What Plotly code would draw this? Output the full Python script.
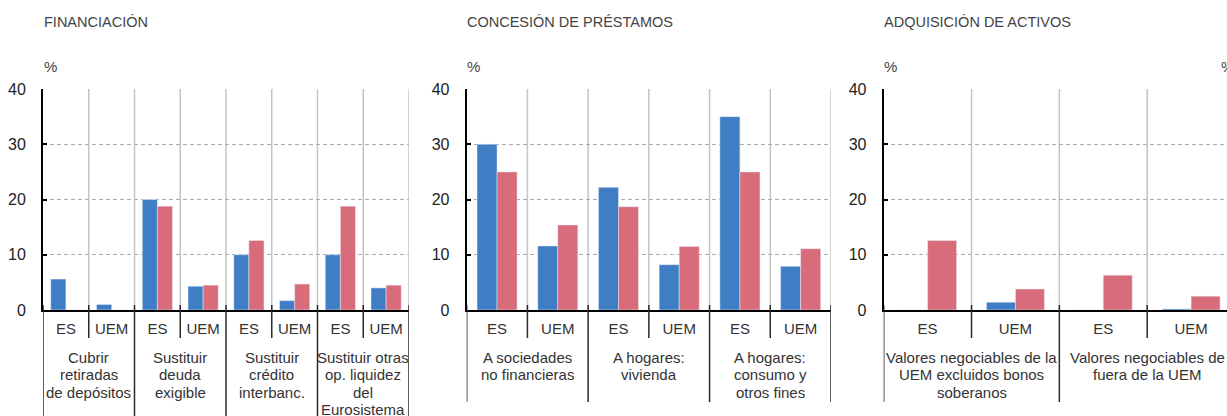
import plotly.graph_objects as go

W, H = 1227, 416

# ---------------- data ----------------
fin_ticks = ["ES", "UEM", "ES", "UEM", "ES", "UEM", "ES", "UEM"]
fin_blue = [5.6, 1.0, 20.0, 4.3, 10.0, 1.7, 10.0, 4.0]
fin_red = [0.0, 0.0, 18.8, 4.5, 12.6, 4.7, 18.8, 4.5]
fin_groups = [["Cubrir", "retiradas", "de depósitos"],
              ["Sustituir", "deuda", "exigible"],
              ["Sustituir", "crédito", "interbanc."],
              ["Sustituir otras", "op. liquidez", "del", "Eurosistema"]]

pre_ticks = ["ES", "UEM", "ES", "UEM", "ES", "UEM"]
pre_blue = [30.0, 11.6, 22.2, 8.2, 35.0, 7.9]
pre_red = [25.0, 15.4, 18.7, 11.5, 25.0, 11.1]
pre_groups = [["A sociedades", "no financieras"],
              ["A hogares:", "vivienda"],
              ["A hogares:", "consumo y", "otros fines"]]

act_ticks = ["ES", "UEM", "ES", "UEM"]
act_blue = [0.0, 1.4, 0.0, 0.2]
act_red = [12.6, 3.8, 6.3, 2.5]
act_groups = [["Valores negociables de la", "UEM excluidos bonos", "soberanos"],
              ["Valores negociables de", "fuera de la UEM"]]

titles = ["FINANCIACIÓN", "CONCESIÓN DE PRÉSTAMOS", "ADQUISICIÓN DE ACTIVOS"]
y_ticks = [0, 10, 20, 30, 40]

# ---------------- style ----------------
BLUE = "#3F7EC4"
RED = "#D96C7B"
FONT = "Liberation Sans, Arial, sans-serif"

def px(x):
    return x / W

def py(y):
    return 1 - y / H

panels = [
    dict(ticks=fin_ticks, blue=fin_blue, red=fin_red, groups=fin_groups,
         left=43, right=409, rng_end=7.5, bottom=416),
    dict(ticks=pre_ticks, blue=pre_blue, red=pre_red, groups=pre_groups,
         left=466.7, right=831, rng_end=5.5, bottom=402),
    dict(ticks=act_ticks, blue=act_blue, red=act_red, groups=act_groups,
         left=883.7, right=1227, rng_end=3.5 - 8 / 87.8, bottom=402),
]

Y_ZERO, Y_TOP = 310, 89

fig = go.Figure()
shapes = []
annotations = []

for i, p in enumerate(panels):
    sfx = "" if i == 0 else str(i + 1)
    xa, ya = "x" + sfx, "y" + sfx
    n = len(p["ticks"])
    xs = list(range(n))
    fig.add_trace(go.Bar(x=xs, y=p["blue"], marker_color=BLUE, xaxis=xa, yaxis=ya,
                         showlegend=False, name="ES/UEM 1"))
    fig.add_trace(go.Bar(x=xs, y=p["red"], marker_color=RED, xaxis=xa, yaxis=ya,
                         showlegend=False, name="ES/UEM 2"))

    fig.update_layout(**{
        "xaxis" + sfx: dict(domain=[px(p["left"]), min(1, px(p["right"]))],
                            range=[-0.5, p["rng_end"]], anchor=ya,
                            tickvals=xs, ticktext=p["ticks"], ticks="",
                            showgrid=False, zeroline=False,
                            showline=True, linecolor="black", linewidth=2,
                            tickfont=dict(size=15, color="#333", family=FONT),
                            ticklabelstandoff=4, fixedrange=True),
        "yaxis" + sfx: dict(domain=[py(Y_ZERO), py(Y_TOP)], range=[0, 40], anchor=xa,
                            tickvals=y_ticks, showgrid=True, gridcolor="#ababab",
                            griddash="4px,3px", gridwidth=1, zeroline=False,
                            showline=True, linecolor="black", linewidth=2,
                            ticks="inside", ticklen=4, tickcolor="black", tickwidth=1.5,
                            tickfont=dict(size=16, color="#222", family=FONT),
                            ticklabelstandoff=12, fixedrange=True),
    })

    # dividers
    for k in range(n + 1):
        b = k - 0.5
        if b > p["rng_end"] + 1e-6:
            continue
        if k > 0:
            shapes.append(dict(type="line", xref=xa, yref=ya, x0=b, x1=b, y0=0, y1=40,
                               line=dict(color="#c4c4c4", width=1.5), layer="below"))
        bottom = p["bottom"] if k % 2 == 0 else 338
        shapes.append(dict(type="line", xref=xa, yref="paper", x0=b, x1=b,
                           y0=py(305), y1=py(bottom),
                           line=dict(color="#2a2a2a", width=1.5)))

    # group labels
    for g, lines in enumerate(p["groups"]):
        for j, line in enumerate(lines):
            annotations.append(dict(text=line, xref=xa, yref="paper", x=2 * g + 0.5,
                                    y=py(357 + 17.6 * j), xanchor="center", yanchor="middle",
                                    showarrow=False,
                                    font=dict(size=15, color="#333", family=FONT)))

    # title and unit
    annotations.append(dict(text=titles[i], xref="paper", yref="paper",
                            x=px(p["left"] - 1.5), y=py(22), xanchor="left", yanchor="middle",
                            showarrow=False, font=dict(size=14.5, color="#444", family=FONT)))
    annotations.append(dict(text="%", xref="paper", yref="paper",
                            x=px(p["left"] - 1.5), y=py(66.5), xanchor="left", yanchor="middle",
                            showarrow=False, font=dict(size=15, color="#444", family=FONT)))

# cut-off right unit label
annotations.append(dict(text="%", xref="paper", yref="paper", x=px(1218.5), y=py(66.5),
                        xanchor="left", yanchor="middle", showarrow=False,
                        font=dict(size=15, color="#444", family=FONT)))

fig.update_layout(
    width=W, height=H,
    margin=dict(l=0, r=0, t=0, b=0, autoexpand=False),
    paper_bgcolor="white", plot_bgcolor="white",
    barmode="group", bargap=0.34, bargroupgap=0,
    shapes=shapes, annotations=annotations,
    font=dict(family=FONT),
)

fig.write_html("out.html", config={"displayModeBar": False},
               post_script="document.body.style.margin='0px';document.body.style.overflow='hidden';")
